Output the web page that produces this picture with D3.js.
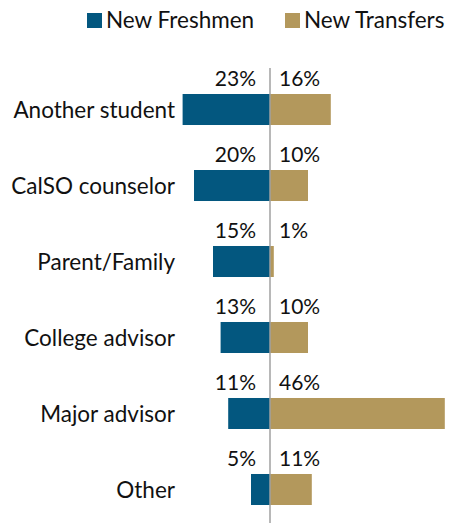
<!DOCTYPE html>
<html>
<head>
<meta charset="utf-8">
<script src="https://cdn.jsdelivr.net/npm/d3@7"></script>
<style>
  html, body { margin: 0; padding: 0; background: #fff; }
  svg { display: block; }
  text { font-family: Lato, "Open Sans", sans-serif; fill: #111; }
</style>
</head>
<body>
<script>
// Sources of information, percent of respondents
const categories = ["Another student", "CalSO counselor", "Parent/Family", "College advisor", "Major advisor", "Other"];
const freshmen = [23, 20, 15, 13, 11, 5];
const transfers = [16, 10, 1, 10, 46, 11];
const seriesNames = ["New Freshmen", "New Transfers"];
const seriesColors = ["#03577f", "#b3985c"];

const W = 449, H = 523;
const svg = d3.select("body").append("svg").attr("width", W).attr("height", H);

// Diverging horizontal scale: freshmen to the left of zero, transfers to the right
const x = d3.scaleLinear().domain([-25, 50]).range([175, 460]);
const y = d3.scaleBand().domain(categories).range([94, 505]).paddingInner(0.592).paddingOuter(0);

const rows = categories.map((c, i) => ({ cat: c, f: freshmen[i], t: transfers[i] }));

// Freshmen bars
svg.append("g").selectAll("rect").data(rows).join("rect")
  .attr("x", d => x(-d.f)).attr("y", d => y(d.cat))
  .attr("width", d => x(0) - x(-d.f)).attr("height", y.bandwidth())
  .attr("fill", seriesColors[0]);

// Transfer bars
svg.append("g").selectAll("rect").data(rows).join("rect")
  .attr("x", x(0)).attr("y", d => y(d.cat))
  .attr("width", d => x(d.t) - x(0)).attr("height", y.bandwidth())
  .attr("fill", seriesColors[1]);

// Zero line
svg.append("line")
  .attr("x1", x(0)).attr("x2", x(0)).attr("y1", 68).attr("y2", H)
  .attr("stroke", "#a0a0a0").attr("stroke-width", 1.5);

// Category labels via a left axis without line or ticks
const axis = svg.append("g").attr("transform", `translate(${175},0)`)
  .call(d3.axisLeft(y).tickSize(0).tickPadding(0));
axis.select(".domain").remove();
axis.selectAll("text")
  .style("font-family", "Lato, 'Open Sans', sans-serif")
  .style("font-size", "22.5px").attr("fill", "#111")
  .attr("dy", "0.36em");

// Value labels above each bar
svg.append("g").selectAll("text").data(rows).join("text")
  .attr("x", x(0) - 14).attr("y", d => y(d.cat) - 8)
  .attr("text-anchor", "end").style("font-size", "21px")
  .text(d => d.f + "%");
svg.append("g").selectAll("text").data(rows).join("text")
  .attr("x", x(0) + 9).attr("y", d => y(d.cat) - 8)
  .attr("text-anchor", "start").style("font-size", "21px")
  .text(d => d.t + "%");

// Legend
const legendX = [87, 285];
const lg = svg.append("g").selectAll("g").data(seriesNames).join("g")
  .attr("transform", (d, i) => `translate(${legendX[i]},13)`);
lg.append("rect").attr("width", 15).attr("height", 15).attr("fill", (d, i) => seriesColors[i]);
lg.append("text").attr("x", 19).attr("y", 15).style("font-size", "22.5px").text(d => d);
</script>
</body>
</html>
